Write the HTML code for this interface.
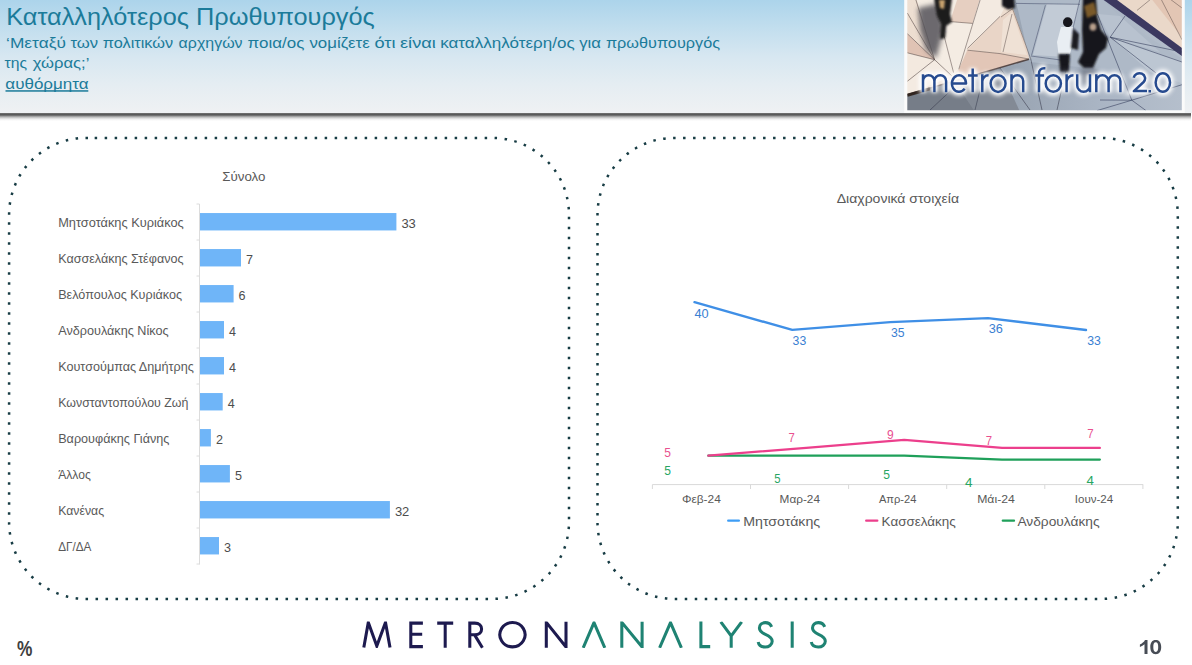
<!DOCTYPE html>
<html lang="el"><head><meta charset="utf-8"><title>Καταλληλότερος Πρωθυπουργός</title>
<style>
html,body{margin:0;padding:0;background:#fff;}
body{width:1192px;height:665px;overflow:hidden;position:relative;font-family:"Liberation Sans", sans-serif;}
#hdr{position:absolute;left:0;top:0;width:1192px;height:113px;background:linear-gradient(180deg,#acd4eb 0%,#c2deee 25%,#d7e7f1 50%,#e5edf2 75%,#eff1f3 100%);}
#shadow{position:absolute;left:0;top:113px;width:1191px;height:8px;background:linear-gradient(180deg,#8a8a8a 0%,#505050 12%,#666 28%,#a8a8a8 45%,#d6d6d6 62%,#f2f2f2 80%,#ffffff 100%);}
svg{position:absolute;left:0;top:0;}
text{font-family:"Liberation Sans", sans-serif;}
</style></head><body>
<div id="hdr"></div><div id="shadow"></div>
<svg width="1192" height="665" viewBox="0 0 1192 665">
<g id="header-text">
<text x="6.2" y="24.7" font-size="23.3" fill="#1b7b9a" font-weight="normal" textLength="368.6" lengthAdjust="spacingAndGlyphs" >Καταλληλότερος Πρωθυπουργός</text>
<text x="6.1" y="47.8" font-size="14.2" fill="#1b7b9a" font-weight="normal" textLength="59.8" lengthAdjust="spacingAndGlyphs" >‘Μεταξύ</text>
<text x="70.4" y="47.8" font-size="14.2" fill="#1b7b9a" font-weight="normal" textLength="27.7" lengthAdjust="spacingAndGlyphs" >των</text>
<text x="102.8" y="47.8" font-size="14.2" fill="#1b7b9a" font-weight="normal" textLength="70.4" lengthAdjust="spacingAndGlyphs" >πολιτικών</text>
<text x="178.6" y="47.8" font-size="14.2" fill="#1b7b9a" font-weight="normal" textLength="64.0" lengthAdjust="spacingAndGlyphs" >αρχηγών</text>
<text x="247.6" y="47.8" font-size="14.2" fill="#1b7b9a" font-weight="normal" textLength="56.8" lengthAdjust="spacingAndGlyphs" >ποια/ος</text>
<text x="309.4" y="47.8" font-size="14.2" fill="#1b7b9a" font-weight="normal" textLength="60.4" lengthAdjust="spacingAndGlyphs" >νομίζετε</text>
<text x="374.5" y="47.8" font-size="14.2" fill="#1b7b9a" font-weight="normal" textLength="21.1" lengthAdjust="spacingAndGlyphs" >ότι</text>
<text x="400.0" y="47.8" font-size="14.2" fill="#1b7b9a" font-weight="normal" textLength="35.8" lengthAdjust="spacingAndGlyphs" >είναι</text>
<text x="440.2" y="47.8" font-size="14.2" fill="#1b7b9a" font-weight="normal" textLength="134.5" lengthAdjust="spacingAndGlyphs" >καταλληλότερη/ος</text>
<text x="579.2" y="47.8" font-size="14.2" fill="#1b7b9a" font-weight="normal" textLength="21.7" lengthAdjust="spacingAndGlyphs" >για</text>
<text x="605.9" y="47.8" font-size="14.2" fill="#1b7b9a" font-weight="normal" textLength="114.1" lengthAdjust="spacingAndGlyphs" >πρωθυπουργός</text>
<text x="4.6" y="68.4" font-size="14.2" fill="#1b7b9a" font-weight="normal" textLength="22.5" lengthAdjust="spacingAndGlyphs" >της</text>
<text x="32.8" y="68.4" font-size="14.2" fill="#1b7b9a" font-weight="normal" textLength="56.6" lengthAdjust="spacingAndGlyphs" >χώρας;’</text>
<text x="5.3" y="88.6" font-size="14.2" fill="#1b7b9a" font-weight="normal" textLength="83.3" lengthAdjust="spacingAndGlyphs" >αυθόρμητα</text>
<rect x="5.5" y="90.2" width="82.8" height="1.5" fill="#1b7b9a"/>
</g>
<defs>
<clipPath id="phclip"><rect x="907.3" y="-2" width="274.5" height="112.2"/></clipPath>
<filter id="b05" x="-5%" y="-5%" width="110%" height="110%"><feGaussianBlur stdDeviation="0.7"/></filter>
<filter id="b03" x="-5%" y="-20%" width="110%" height="140%"><feGaussianBlur stdDeviation="0.35"/></filter>
<filter id="b1" x="-20%" y="-20%" width="140%" height="140%"><feGaussianBlur stdDeviation="1.1"/></filter>
<filter id="b3" x="-40%" y="-40%" width="180%" height="180%"><feGaussianBlur stdDeviation="2.6"/></filter>
<filter id="glow" x="-10%" y="-40%" width="120%" height="180%"><feGaussianBlur stdDeviation="2.2"/></filter>
<linearGradient id="bluebg" x1="0" y1="0" x2="1" y2="0"><stop offset="0" stop-color="#868e99"/><stop offset="0.35" stop-color="#98a3b1"/><stop offset="0.7" stop-color="#aab5c4"/><stop offset="1" stop-color="#b5bfcc"/></linearGradient>
<linearGradient id="beigebg" x1="0" y1="0" x2="1" y2="1"><stop offset="0" stop-color="#eee0d3"/><stop offset="1" stop-color="#e8d3c4"/></linearGradient>
</defs>
<rect x="904.2" y="-3" width="280.6" height="115.9" fill="#fbfbfb" filter="url(#b05)"/>
<g clip-path="url(#phclip)">
<g filter="url(#b05)">
<rect x="905" y="-3" width="279" height="115" fill="url(#beigebg)"/>
<polygon points="916,-3 982,-3 959,69 952,76 935,60" fill="#f4ece3"/>
<polygon points="950,21.6 972.7,23.4 980.4,-3 958,-3" fill="#e6cfc1"/>
<polygon points="907,33.7 934.6,59.7 907,52.8" fill="#e0c3b4"/>
<polygon points="907,52.8 934.6,59.7 907,81.3" fill="#f3e9df"/>
<polygon points="907,81.3 934.6,59.7 952,76 907,95" fill="#f4ebe2"/>
<polygon points="967.5,50.2 1000,53.6 1029,59 959,79.5 958.8,69.2" fill="#e2c6b7"/>
<polygon points="980.4,-3 1010,-3 1000,16.4 967.5,48.4 958.8,69.2" fill="#f3eae1"/>
<polygon points="1000,16.4 1013,9 1030,58 1000,53.6 967.5,50.2" fill="#e9d5c7"/>
<polygon points="1003,20 1012,12 1027,55 1001,52" fill="#efe1d5"/>
<polygon points="1009,-3 1030.7,58.8 907,94.8 907,112 1184,112 1184,54 1102,-3" fill="url(#bluebg)"/>
<polygon points="1015,-3 1100,-3 1125,22 1184,60 1184,78 1030,62" fill="#aeb9c7"/>
<polygon points="1047,4 1079,4 1066,57 1033,55" fill="#c2cbd6"/>
<polygon points="1112,38 1184,62 1184,84 1150,72" fill="#bcc6d2"/>
<polygon points="1098,14 1110.2,37.2 1160,52 1120,16" fill="#b8c2cf"/>
<polygon points="907,94.8 1000,68 1020,112 907,112" fill="#838a95"/>
<polygon points="907,96 955,82 975,112 907,112" fill="#767d88"/>
<polygon points="1113,-3 1184,-3 1184,47.5" fill="#ead8c9"/>
<polygon points="1150,-3 1184,-3 1184,40" fill="#e3c6b4"/>
<polygon points="1099.5,-3 1113,-3 1184,49.5 1184,57.5" fill="#3b3960" filter="url(#b05)"/>
</g>
<g filter="url(#b05)">
<path d="M907.3 13 L934.6 59.7 M907.3 33.7 L934.6 59.7 M907.3 52.8 L934.6 59.7 M934.6 59.7 L907.3 81.3 M934.6 59.7 L952 76.1 M915.6 -1 L934.6 59.7" stroke="#4b3d3c" stroke-width="0.9" fill="none" opacity="0.6"/>
<path d="M943.3 32.9 L953.6 72.7 M980.4 -1 L958.8 69.2 M1000 16.4 L967.5 48.4 M967.5 50.2 L1000 53.6 L1029 59 M950.2 21.6 L972.7 23.4" stroke="#4b3d3c" stroke-width="0.9" fill="none" opacity="0.55"/>
<path d="M1012.5 8.7 L1030.7 58.8 M1001 17 L1012.5 8.7 M1003 52 L1012 14" stroke="#4b3d3c" stroke-width="0.9" fill="none" opacity="0.5"/>
<path d="M907.3 94.8 L1029 59.2" stroke="#4b3d3c" stroke-width="1.6" fill="none" opacity="0.9"/>
<path d="M907.3 95.3 L930 88.7" stroke="#2c1f1a" stroke-width="3.0" fill="none" opacity="0.9"/>
<path d="M1016 3.4 L1080 4.3 M1045.4 5.2 L1031.5 55.4 M1080 -1 L1066 57 M1031 56 L1068 61" stroke="#39415f" stroke-width="0.9" fill="none" opacity="0.55"/>
<path d="M1097.3 13.8 L1131.8 100.2 M1110.2 37.2 L1182 62 M1110.2 37.2 L1156 73 M1110.2 37.2 L1182 52 M1110.2 37.2 L1125 16" stroke="#39415f" stroke-width="1.0" fill="none" opacity="0.6"/>
<path d="M1131.8 100.2 L1182 84.7 M1131.8 100.2 L1097 110.6 M1131.8 100.2 L1146 110.6 M1100 100 L1131.8 100.2" stroke="#39415f" stroke-width="1.0" fill="none" opacity="0.6"/>
<path d="M930 110 L960 82 M975 110 L984 74 M1000 68 L1030 110 M1030.7 58.8 L1042 110 M1068 61 L1057 110" stroke="#3c4050" stroke-width="1.0" fill="none" opacity="0.6"/>
<path d="M1161 -1 L1182 39.8 M1137 10.4 L1151 -1 M1170 -1 L1182 8" stroke="#4b3d3c" stroke-width="0.9" fill="none" opacity="0.5"/>
</g>
<g>
<path d="M918 8 L941 3 L944 30 L936 58 L926 50 L920 30 Z" fill="#55535a" opacity="0.85" filter="url(#b3)"/>
<path d="M934 -2 L952 -2 L950 14 L952 22 L946 26 L945 38 L940 39 L941 24 L937 16 Z" fill="#1b1a1d" filter="url(#b1)"/>
<path d="M939 0 L945 0 L944 9 L940 8Z" fill="#c9a36e" filter="url(#b1)"/>
<path d="M1002 -2 L1014 -2 L1015 8 L1008 9.5 L1002 6Z" fill="#17171b" filter="url(#b1)"/>
<ellipse cx="1067.7" cy="22.2" rx="4.7" ry="5.0" fill="#15151a" filter="url(#b05)"/>
<path d="M1061 27 L1073 27 L1073.5 40 L1070 54 L1058.5 54 L1057 42 Z" fill="#e9eef3" filter="url(#b05)"/>
<path d="M1058.5 54 L1070 54 L1068.8 72 L1060.2 72 Z" fill="#17171b" filter="url(#b1)"/>
<path d="M1060 70 L1069 70 L1067 86 L1062 86 Z" fill="#555a66" opacity="0.55" filter="url(#b3)"/>
<path d="M1073 28 L1079 34 L1078 50 L1071 48 Z" fill="#1a1a20" filter="url(#b1)"/>
<path d="M1083 -2 L1096 -2 L1097 16 L1101 30 L1108 38 L1106 48 L1099 54 L1093 68 L1084 68 L1078 62 L1083 52 L1082 30 Z" fill="#17171b" filter="url(#b1)"/>
<path d="M1084 6 L1094 2 L1097 14 L1087 18Z" fill="#7a5a2c" filter="url(#b1)"/>
<ellipse cx="1093" cy="27" rx="3.4" ry="3.8" fill="#b9a08c" filter="url(#b1)"/>
<path d="M1080 68 L1096 68 L1092 84 L1083 84 Z" fill="#4c505c" opacity="0.5" filter="url(#b3)"/>
</g>
<path d="M923.0 74.3 V92.3 M923.0 80.95 A5.70 5.70 0 0 1 934.4 80.95 V92.3 M934.4 81.10 A5.85 5.85 0 0 1 946.1 81.10 V92.3 M951.95 83.55 H966.05 A7.05 8.30 0 1 0 964.6 88.6 M972.7 68.4 V92.3 M968 75.4 H977.7 M982.3 74.3 V92.3 M982.3 81.6 A6.3 6.3 0 0 1 988.6 75.3 M990.65 83.55 A7.45 8.30 0 1 1 1005.55 83.55 A7.45 8.30 0 1 1 990.65 83.55 Z M1011.5 74.3 V92.3 M1011.5 81.10 A5.85 5.85 0 0 1 1023.2 81.10 V92.3 M1039 92.3 V73.3 A5.0 5.05 0 0 1 1044 68.25 L1045.4 68.3 M1035.2 75.4 H1044.1 M1045.70 83.55 A7.6 8.30 0 1 1 1060.90 83.55 A7.6 8.30 0 1 1 1045.70 83.55 Z M1066.6 74.3 V92.3 M1066.6 82.1 A6.9 6.8 0 0 1 1073.5 75.3 M1077.2 74.3 V85.45 A6.4 6.4 0 0 0 1090 85.45 M1090 74.3 V92.3 M1096.3 74.3 V92.3 M1096.3 81.40 A6.15 6.15 0 0 1 1108.6 81.40 V92.3 M1108.6 81.15 A5.90 5.90 0 0 1 1120.4 81.15 V92.3 M1133.75 77.7 A5.7 5.25 0 1 1 1143.6 82.0 L1133.9 91.1 H1147 M1149.75 90 V92.5 M1155.65 82.45 A7.2 9.30 0 1 1 1170.05 82.45 A7.2 9.30 0 1 1 1155.65 82.45 Z " fill="none" stroke="#ffffff" stroke-width="8" opacity="0.9" filter="url(#glow)"/>
<path d="M923.0 74.3 V92.3 M923.0 80.95 A5.70 5.70 0 0 1 934.4 80.95 V92.3 M934.4 81.10 A5.85 5.85 0 0 1 946.1 81.10 V92.3 M951.95 83.55 H966.05 A7.05 8.30 0 1 0 964.6 88.6 M972.7 68.4 V92.3 M968 75.4 H977.7 M982.3 74.3 V92.3 M982.3 81.6 A6.3 6.3 0 0 1 988.6 75.3 M990.65 83.55 A7.45 8.30 0 1 1 1005.55 83.55 A7.45 8.30 0 1 1 990.65 83.55 Z M1011.5 74.3 V92.3 M1011.5 81.10 A5.85 5.85 0 0 1 1023.2 81.10 V92.3 M1039 92.3 V73.3 A5.0 5.05 0 0 1 1044 68.25 L1045.4 68.3 M1035.2 75.4 H1044.1 M1045.70 83.55 A7.6 8.30 0 1 1 1060.90 83.55 A7.6 8.30 0 1 1 1045.70 83.55 Z M1066.6 74.3 V92.3 M1066.6 82.1 A6.9 6.8 0 0 1 1073.5 75.3 M1077.2 74.3 V85.45 A6.4 6.4 0 0 0 1090 85.45 M1090 74.3 V92.3 M1096.3 74.3 V92.3 M1096.3 81.40 A6.15 6.15 0 0 1 1108.6 81.40 V92.3 M1108.6 81.15 A5.90 5.90 0 0 1 1120.4 81.15 V92.3 M1133.75 77.7 A5.7 5.25 0 1 1 1143.6 82.0 L1133.9 91.1 H1147 M1149.75 90 V92.5 M1155.65 82.45 A7.2 9.30 0 1 1 1170.05 82.45 A7.2 9.30 0 1 1 1155.65 82.45 Z " fill="none" stroke="#ffffff" stroke-width="5" opacity="0.6" filter="url(#b1)"/>
<path d="M923.0 74.3 V92.3 M923.0 80.95 A5.70 5.70 0 0 1 934.4 80.95 V92.3 M934.4 81.10 A5.85 5.85 0 0 1 946.1 81.10 V92.3 M951.95 83.55 H966.05 A7.05 8.30 0 1 0 964.6 88.6 M972.7 68.4 V92.3 M968 75.4 H977.7 M982.3 74.3 V92.3 M982.3 81.6 A6.3 6.3 0 0 1 988.6 75.3 M990.65 83.55 A7.45 8.30 0 1 1 1005.55 83.55 A7.45 8.30 0 1 1 990.65 83.55 Z M1011.5 74.3 V92.3 M1011.5 81.10 A5.85 5.85 0 0 1 1023.2 81.10 V92.3 M1039 92.3 V73.3 A5.0 5.05 0 0 1 1044 68.25 L1045.4 68.3 M1035.2 75.4 H1044.1 M1045.70 83.55 A7.6 8.30 0 1 1 1060.90 83.55 A7.6 8.30 0 1 1 1045.70 83.55 Z M1066.6 74.3 V92.3 M1066.6 82.1 A6.9 6.8 0 0 1 1073.5 75.3 M1077.2 74.3 V85.45 A6.4 6.4 0 0 0 1090 85.45 M1090 74.3 V92.3 M1096.3 74.3 V92.3 M1096.3 81.40 A6.15 6.15 0 0 1 1108.6 81.40 V92.3 M1108.6 81.15 A5.90 5.90 0 0 1 1120.4 81.15 V92.3 M1133.75 77.7 A5.7 5.25 0 1 1 1143.6 82.0 L1133.9 91.1 H1147 M1149.75 90 V92.5 M1155.65 82.45 A7.2 9.30 0 1 1 1170.05 82.45 A7.2 9.30 0 1 1 1155.65 82.45 Z " fill="none" stroke="#284b8f" stroke-width="2.5" stroke-linejoin="round" filter="url(#b03)"/>
</g>
<g id="panels" fill="none" stroke="#173c44" stroke-width="2.5" stroke-dasharray="2.5 7.5" stroke-dashoffset="6.25">
<path d="M90.90 137.9 H492.20 A76.8 76.8 0 0 1 569.00 214.70 V522.10 A76.8 76.8 0 0 1 492.20 598.90 H85.90 A76.8 76.8 0 0 1 9.10 522.10 V214.70 A76.8 76.8 0 0 1 85.90 137.9 H90.90"/>
<path d="M679.30 137.9 H1101.00 A76.8 76.8 0 0 1 1177.80 214.70 V522.10 A76.8 76.8 0 0 1 1101.00 598.90 H674.30 A76.8 76.8 0 0 1 597.50 522.10 V214.70 A76.8 76.8 0 0 1 674.30 137.9 H679.30"/>
</g>
<g id="barchart">
<text x="222.3" y="180.7" font-size="13.0" fill="#595959" font-weight="normal" textLength="43.2" lengthAdjust="spacingAndGlyphs" >Σύνολο</text>
<path d="M199.5 204 V564.5" stroke="#dcdcdc" stroke-width="1" fill="none"/>
<path d="M196.5 204.0 H199.5 M196.5 240.0 H199.5 M196.5 276.0 H199.5 M196.5 312.0 H199.5 M196.5 348.0 H199.5 M196.5 384.0 H199.5 M196.5 420.0 H199.5 M196.5 456.0 H199.5 M196.5 492.0 H199.5 M196.5 528.0 H199.5 M196.5 564.0 H199.5 " stroke="#dcdcdc" stroke-width="1" fill="none"/>
<rect x="200" y="213.05" width="196.4" height="17.4" fill="#6fb5f8"/>
<text x="58.2" y="226.8" font-size="11.9" fill="#595959" font-weight="normal" textLength="125.6" lengthAdjust="spacingAndGlyphs" >Μητσοτάκης Κυριάκος</text>
<text x="401.4" y="227.6" font-size="13.3" fill="#4d4d4d" font-weight="normal" textLength="14.4" lengthAdjust="spacingAndGlyphs" >33</text>
<rect x="200" y="249.05" width="41.0" height="17.4" fill="#6fb5f8"/>
<text x="58.2" y="262.8" font-size="11.9" fill="#595959" font-weight="normal" textLength="125.3" lengthAdjust="spacingAndGlyphs" >Κασσελάκης Στέφανος</text>
<text x="246.0" y="263.6" font-size="13.3" fill="#4d4d4d" font-weight="normal" textLength="7.0" lengthAdjust="spacingAndGlyphs" >7</text>
<rect x="200" y="285.05" width="33.6" height="17.4" fill="#6fb5f8"/>
<text x="58.2" y="298.8" font-size="11.9" fill="#595959" font-weight="normal" textLength="123.8" lengthAdjust="spacingAndGlyphs" >Βελόπουλος Κυριάκος</text>
<text x="238.6" y="299.6" font-size="13.3" fill="#4d4d4d" font-weight="normal" textLength="7.0" lengthAdjust="spacingAndGlyphs" >6</text>
<rect x="200" y="321.05" width="24.0" height="17.4" fill="#6fb5f8"/>
<text x="58.2" y="334.8" font-size="11.9" fill="#595959" font-weight="normal" textLength="110.4" lengthAdjust="spacingAndGlyphs" >Ανδρουλάκης Νίκος</text>
<text x="229.0" y="335.6" font-size="13.3" fill="#4d4d4d" font-weight="normal" textLength="7.0" lengthAdjust="spacingAndGlyphs" >4</text>
<rect x="200" y="357.05" width="24.0" height="17.4" fill="#6fb5f8"/>
<text x="58.2" y="370.8" font-size="11.9" fill="#595959" font-weight="normal" textLength="135.7" lengthAdjust="spacingAndGlyphs" >Κουτσούμπας Δημήτρης</text>
<text x="229.0" y="371.6" font-size="13.3" fill="#4d4d4d" font-weight="normal" textLength="7.0" lengthAdjust="spacingAndGlyphs" >4</text>
<rect x="200" y="393.05" width="22.7" height="17.4" fill="#6fb5f8"/>
<text x="58.2" y="406.8" font-size="11.9" fill="#595959" font-weight="normal" textLength="130.2" lengthAdjust="spacingAndGlyphs" >Κωνσταντοπούλου Ζωή</text>
<text x="227.7" y="407.6" font-size="13.3" fill="#4d4d4d" font-weight="normal" textLength="7.0" lengthAdjust="spacingAndGlyphs" >4</text>
<rect x="200" y="429.05" width="10.9" height="17.4" fill="#6fb5f8"/>
<text x="58.2" y="442.8" font-size="11.9" fill="#595959" font-weight="normal" textLength="111.2" lengthAdjust="spacingAndGlyphs" >Βαρουφάκης Γιάνης</text>
<text x="215.9" y="443.6" font-size="13.3" fill="#4d4d4d" font-weight="normal" textLength="7.0" lengthAdjust="spacingAndGlyphs" >2</text>
<rect x="200" y="465.05" width="29.9" height="17.4" fill="#6fb5f8"/>
<text x="58.2" y="478.8" font-size="11.9" fill="#595959" font-weight="normal" textLength="32.6" lengthAdjust="spacingAndGlyphs" >Άλλος</text>
<text x="234.9" y="479.6" font-size="13.3" fill="#4d4d4d" font-weight="normal" textLength="7.0" lengthAdjust="spacingAndGlyphs" >5</text>
<rect x="200" y="501.05" width="189.9" height="17.4" fill="#6fb5f8"/>
<text x="58.2" y="514.8" font-size="11.9" fill="#595959" font-weight="normal" textLength="45.9" lengthAdjust="spacingAndGlyphs" >Κανένας</text>
<text x="394.9" y="515.6" font-size="13.3" fill="#4d4d4d" font-weight="normal" textLength="14.4" lengthAdjust="spacingAndGlyphs" >32</text>
<rect x="200" y="537.05" width="19.0" height="17.4" fill="#6fb5f8"/>
<text x="58.2" y="550.8" font-size="11.9" fill="#595959" font-weight="normal" textLength="33.1" lengthAdjust="spacingAndGlyphs" >ΔΓ/ΔΑ</text>
<text x="224.0" y="551.6" font-size="13.3" fill="#4d4d4d" font-weight="normal" textLength="7.0" lengthAdjust="spacingAndGlyphs" >3</text>
</g>
<g id="linechart">
<text x="836.7" y="202.5" font-size="13.0" fill="#595959" font-weight="normal" textLength="122.4" lengthAdjust="spacingAndGlyphs" >Διαχρονικά στοιχεία</text>
<path d="M652.4 484.6 H1143.2" stroke="#d9d9d9" stroke-width="1" fill="none"/>
<path d="M652.4 484.6 V489 M750.5 484.6 V489 M848.6 484.6 V489 M946.7 484.6 V489 M1044.8 484.6 V489 M1142.9 484.6 V489 " stroke="#d9d9d9" stroke-width="1" fill="none"/>
<polyline points="694.5,302.2 792.3,329.9 890.2,322.1 988.0,318.1 1086.0,330.0" fill="none" stroke="#3f8fe6" stroke-width="2.4" stroke-linejoin="round" stroke-linecap="round"/>
<polyline points="708.3,455.7 806.2,455.7 904.2,455.6 1002.1,459.6 1099.9,459.6" fill="none" stroke="#1fa05a" stroke-width="2.2" stroke-linejoin="round" stroke-linecap="round"/>
<polyline points="708.3,455.7 806.2,447.8 904.2,439.9 1002.1,447.9 1099.9,447.9" fill="none" stroke="#ec3f8c" stroke-width="2.2" stroke-linejoin="round" stroke-linecap="round"/>
<text x="694.5" y="317.8" font-size="13.3" fill="#3a80d2" font-weight="normal" textLength="14.2" lengthAdjust="spacingAndGlyphs" >40</text>
<text x="792.6" y="345.0" font-size="13.3" fill="#3a80d2" font-weight="normal" textLength="13.6" lengthAdjust="spacingAndGlyphs" >33</text>
<text x="891.0" y="336.8" font-size="13.3" fill="#3a80d2" font-weight="normal" textLength="13.6" lengthAdjust="spacingAndGlyphs" >35</text>
<text x="988.7" y="333.1" font-size="13.3" fill="#3a80d2" font-weight="normal" textLength="14.1" lengthAdjust="spacingAndGlyphs" >36</text>
<text x="1087.2" y="344.6" font-size="13.3" fill="#3a80d2" font-weight="normal" textLength="13.6" lengthAdjust="spacingAndGlyphs" >33</text>
<text x="664.3" y="457.3" font-size="13.3" fill="#e9508f" font-weight="normal" textLength="6.7" lengthAdjust="spacingAndGlyphs" >5</text>
<text x="788.4" y="441.6" font-size="13.3" fill="#e9508f" font-weight="normal" textLength="6.3" lengthAdjust="spacingAndGlyphs" >7</text>
<text x="887.0" y="439.3" font-size="13.3" fill="#e9508f" font-weight="normal" textLength="6.7" lengthAdjust="spacingAndGlyphs" >9</text>
<text x="985.8" y="444.5" font-size="13.3" fill="#e9508f" font-weight="normal" textLength="6.3" lengthAdjust="spacingAndGlyphs" >7</text>
<text x="1087.2" y="438.1" font-size="13.3" fill="#e9508f" font-weight="normal" textLength="6.4" lengthAdjust="spacingAndGlyphs" >7</text>
<text x="664.3" y="474.5" font-size="13.3" fill="#27a562" font-weight="normal" textLength="6.7" lengthAdjust="spacingAndGlyphs" >5</text>
<text x="774.2" y="482.9" font-size="13.3" fill="#27a562" font-weight="normal" textLength="6.3" lengthAdjust="spacingAndGlyphs" >5</text>
<text x="883.2" y="478.6" font-size="13.3" fill="#27a562" font-weight="normal" textLength="6.7" lengthAdjust="spacingAndGlyphs" >5</text>
<text x="964.9" y="486.8" font-size="13.3" fill="#27a562" font-weight="normal" textLength="7.5" lengthAdjust="spacingAndGlyphs" >4</text>
<text x="1086.6" y="484.6" font-size="13.3" fill="#27a562" font-weight="normal" textLength="7.4" lengthAdjust="spacingAndGlyphs" >4</text>
<text x="681.9" y="503.0" font-size="11.5" fill="#595959" font-weight="normal" textLength="38.9" lengthAdjust="spacingAndGlyphs" >Φεβ-24</text>
<text x="779.6" y="503.0" font-size="11.5" fill="#595959" font-weight="normal" textLength="40.4" lengthAdjust="spacingAndGlyphs" >Μαρ-24</text>
<text x="878.9" y="503.0" font-size="11.5" fill="#595959" font-weight="normal" textLength="37.5" lengthAdjust="spacingAndGlyphs" >Απρ-24</text>
<text x="977.2" y="503.0" font-size="11.5" fill="#595959" font-weight="normal" textLength="37.6" lengthAdjust="spacingAndGlyphs" >Μάι-24</text>
<text x="1074.8" y="503.0" font-size="11.5" fill="#595959" font-weight="normal" textLength="38.3" lengthAdjust="spacingAndGlyphs" >Ιουν-24</text>
<path d="M728.2 520.7 H738.9" stroke="#3e9df5" stroke-width="2.3" stroke-linecap="round"/>
<path d="M866.2 520.7 H877.3" stroke="#ec3f8c" stroke-width="2.3" stroke-linecap="round"/>
<path d="M1002.8 520.7 H1014.0" stroke="#1fa05a" stroke-width="2.3" stroke-linecap="round"/>
<text x="743.2" y="526.2" font-size="13.6" fill="#595959" font-weight="normal" textLength="77.0" lengthAdjust="spacingAndGlyphs" >Μητσοτάκης</text>
<text x="881.6" y="526.2" font-size="13.6" fill="#595959" font-weight="normal" textLength="74.1" lengthAdjust="spacingAndGlyphs" >Κασσελάκης</text>
<text x="1017.4" y="526.2" font-size="13.6" fill="#595959" font-weight="normal" textLength="82.2" lengthAdjust="spacingAndGlyphs" >Ανδρουλάκης</text>
</g>
<g id="footer">
<text x="17.0" y="656.2" font-size="22" font-weight="bold" fill="#404040" textLength="15.4" lengthAdjust="spacingAndGlyphs">%</text>
<path fill="#474c55" fill-rule="evenodd" d="M1147.5 654 H1144.5 V644.3 C1143.3 645.5 1141.7 646.4 1139.9 647 V644.4 C1142 643.6 1144.1 641.9 1145 640 H1147.5 Z M1155.75 639.9 C1159.4 639.9 1161.2 642.6 1161.2 647.1 C1161.2 651.6 1159.4 654.3 1155.75 654.3 C1152.1 654.3 1150.3 651.6 1150.3 647.1 C1150.3 642.6 1152.1 639.9 1155.75 639.9 Z M1155.75 642.2 C1153.9 642.2 1153.3 644 1153.3 647.1 C1153.3 650.2 1153.9 652 1155.75 652 C1157.6 652 1158.2 650.2 1158.2 647.1 C1158.2 644 1157.6 642.2 1155.75 642.2 Z"/>
</g>
<clipPath id="capclip"><rect x="340" y="621.4" width="520" height="26.5"/></clipPath>
<g id="logo-bottom" fill="none" stroke-width="3.05" stroke-linejoin="miter" stroke-miterlimit="8">
<path stroke="#1d1a4f" clip-path="url(#capclip)" d="M363.8 647.6 L368.3 622.4 L376.8 646.0 L385.5 622.4 L390.0 647.6 M546.3 647.8 V622.4 L566.0 647.0 V621.6"/>
<path stroke="#1d1a4f" d="M422.9 623.1 H410.8 V646.6 H422.9 M410.8 634.3 H422.2 M437.2 623.1 H453.2 M445.2 623.1 V647.8 M469.8 647.8 V623.1 H474.8 C479.3 623.1 481.6 625.6 481.6 628.9 C481.6 632.3 479.3 634.8 474.8 634.8 H469.8 M474.6 634.9 L482.4 647.8 M512.5 622.5 A12.6 12.2 0 1 1 512.4 622.5 Z"/>
<path stroke="#1f8373" clip-path="url(#capclip)" d="M583.2 647.8 L594.0 622.6 L604.8 647.8 M621.8 647.8 V622.4 L642.1 647.0 V621.6 M659.6 647.8 L670.5 622.6 L681.4 647.8 M720.8 621.9 L731.2 636.0 L741.7 621.9 M731.2 636.0 V647.8"/>
<path stroke="#1f8373" d="M700.9 621.6 V646.6 H710.2 M771.6 626.9 C770.6 624.2 768.0 622.6 765.2 622.6 C761.8 622.6 759.4 624.9 759.4 628.1 C759.4 631.2 761.7 632.8 765.4 634.4 C769.6 636.2 772.2 637.9 772.2 641.3 C772.2 644.8 768.8 647.0 765.2 647.0 C761.6 647.0 758.8 645.2 758.2 642.0  M792.2 621.6 V647.8 M824.7 626.9 C823.7 624.2 821.1 622.6 818.3 622.6 C814.9 622.6 812.5 624.9 812.5 628.1 C812.5 631.2 814.8 632.8 818.5 634.4 C822.7 636.2 825.3 637.9 825.3 641.3 C825.3 644.8 821.9 647.0 818.3 647.0 C814.7 647.0 811.9 645.2 811.3 642.0 "/>
</g>
</svg>
</body></html>
